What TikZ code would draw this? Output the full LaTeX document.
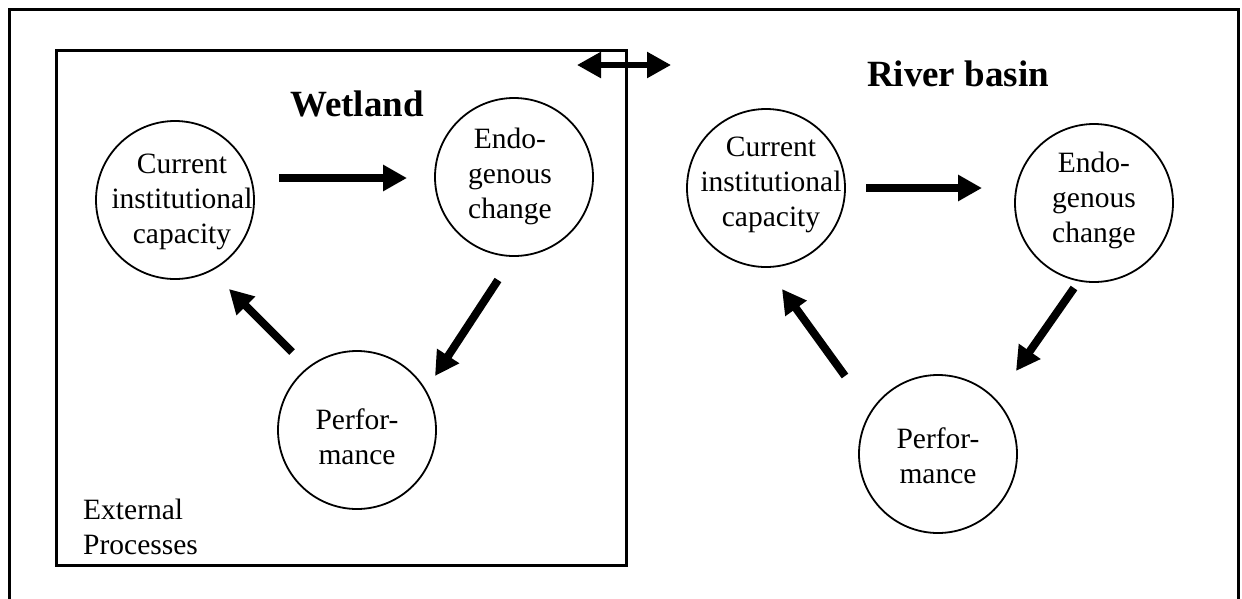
\documentclass[tikz,border=0pt]{standalone}
\usepackage{fontspec}
\setmainfont{Liberation Serif}
\usetikzlibrary{arrows.meta}
\begin{document}
\begin{tikzpicture}[x=1pt,y=-1pt,
  ring/.style={circle,draw,line width=1.8pt,minimum size=158pt,inner sep=0pt},
  lbl/.style={align=center,inner sep=0pt,font=\fontsize{29.5}{35}\selectfont},
  title/.style={inner sep=0pt,font=\fontsize{37}{40}\selectfont\bfseries},
  flow/.style={line width=8pt,-{Triangle[width=25pt,length=24pt]}},
  link/.style={line width=5.5pt,{Triangle[width=25pt,length=24pt]}-{Triangle[width=25pt,length=24pt]}}]
\useasboundingbox (0,0) rectangle (1242,598);
\begin{scope}
\clip (0,0) rectangle (1242,598);
% outer frame, open at the bottom
\draw[line width=3pt] (9,610) -- (9,9) -- (1238,9) -- (1238,610);
\end{scope}
% wetland box
\draw[line width=3pt] (56,50) rectangle (626,565);

% ---- Wetland cycle ----
\node[title] (wt) at (357,104) {Wetland};
\node[ring] (wc) at (175,200) {};
\node[lbl] (wct) at (182,202) {Current\\institutional\\capacity};
\node[ring] (we) at (514,177) {};
\node[lbl] (wet) at (510,176) {Endo-\\genous\\change};
\node[ring] (wp) at (357,430) {};
\node[lbl] (wpt) at (357,437) {Perfor-\\mance};
\node[lbl,align=left,anchor=west] (ext) at (83,527) {External\\Processes};

\coordinate (wa1) at (279,178);
\coordinate (wb1) at (407,178);
\coordinate (wa2) at (498,280);
\coordinate (wb2) at (435,376);
\coordinate (wa3) at (292,352);
\coordinate (wb3) at (229,289);
\draw[flow] (wa1) -- (wb1);
\draw[flow] (wa2) -- (wb2);
\draw[flow] (wa3) -- (wb3);

% ---- link between the two levels ----
\coordinate (la) at (577,65);
\coordinate (lb) at (671,65);
\draw[link] (la) -- (lb);

% ---- River basin cycle ----
\node[title] (rt) at (958,74) {River basin};
\node[ring] (rc) at (766,188) {};
\node[lbl] (rct) at (771,185) {Current\\institutional\\capacity};
\node[ring] (re) at (1094,203) {};
\node[lbl] (ret) at (1094,200) {Endo-\\genous\\change};
\node[ring] (rp) at (938,454) {};
\node[lbl] (rpt) at (938,456) {Perfor-\\mance};

\coordinate (ra1) at (866,188);
\coordinate (rb1) at (982,188);
\coordinate (ra2) at (1074,288);
\coordinate (rb2) at (1016,371);
\coordinate (ra3) at (845,376);
\coordinate (rb3) at (782,289);
\draw[flow] (ra1) -- (rb1);
\draw[flow] (ra2) -- (rb2);
\draw[flow] (ra3) -- (rb3);
\end{tikzpicture}
\end{document}
